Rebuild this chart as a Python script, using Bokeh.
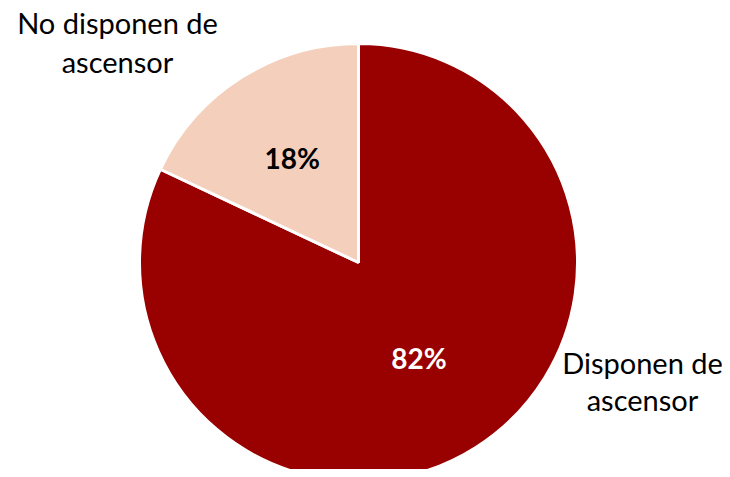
import math
from bokeh.plotting import figure
from bokeh.models import Range1d, ColumnDataSource
from bokeh.core.properties import value
from bokeh.embed import file_html
from bokeh.resources import INLINE

# ---- data ----
categories = ["Disponen de ascensor", "No disponen de ascensor"]
shares = [82, 18]
colors = ["#990000", "#F4D0BC"]
label_colors = ["white", "black"]

W, H = 722, 469
p = figure(width=W, height=H, output_backend="svg", toolbar_location=None,
           x_range=Range1d(0, W), y_range=Range1d(0, H), min_border=0)
p.axis.visible = False
p.grid.visible = False
p.outline_line_color = None
p.background_fill_color = "white"
p.border_fill_color = "white"

cx, cy, R = 358, 207, 219
total = sum(shares)
# first slice goes clockwise from 12 o'clock, second counterclockwise
a82 = 2 * math.pi * shares[0] / total
starts = [math.pi / 2 - a82, math.pi / 2]
ends = [math.pi / 2, math.pi / 2 + 2 * math.pi - a82]
mids = [(s + e) / 2 for s, e in zip(starts, ends)]
src = ColumnDataSource(dict(x=[cx, cx], y=[cy, cy], start=starts, end=ends, color=colors))
p.wedge(x="x", y="y", radius=R, start_angle="start", end_angle="end",
        fill_color="color", line_color="white", line_width=3, source=src)

fr = [0.515, 0.565]
lx = [cx + f * R * math.cos(m) for f, m in zip(fr, mids)]
ly = [cy + f * R * math.sin(m) for f, m in zip(fr, mids)]
p.text(x=lx, y=ly, text=[f"{v}%" for v in shares], text_color=label_colors,
       text_font=value("Lato"), text_font_style="bold", text_font_size="28px",
       text_align="center", text_baseline="middle")

# category labels (split into two lines)
def two_lines(s):
    w = s.split(" ")
    return " ".join(w[:-1]), w[-1]

pos = [(642, 107, 70), (117, 447, 408)]
for cat, (x, y1, y2) in zip(categories, pos):
    l1, l2 = two_lines(cat)
    p.text(x=[x, x], y=[y1, y2], text=[l1, l2], text_color="black",
           text_font=value("Lato"), text_font_size="29px",
           text_align="center", text_baseline="alphabetic")

open("out.html", "w").write(file_html(p, INLINE))
